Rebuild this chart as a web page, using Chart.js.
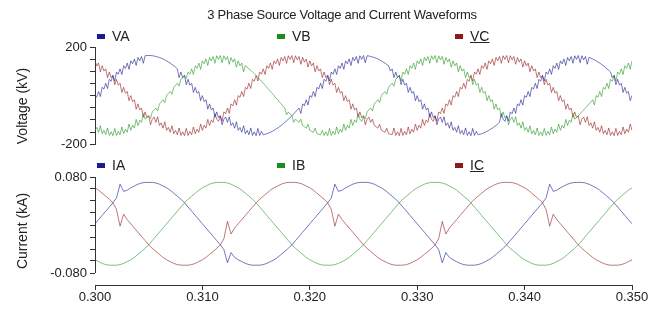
<!DOCTYPE html>
<html>
<head>
<meta charset="utf-8">
<script src="https://cdn.jsdelivr.net/npm/chart.js@4.4.1/dist/chart.umd.min.js"></script>
<style>
    body { margin: 0; background: #fff; font-family: "Liberation Sans", Arial, sans-serif; }
    #wrap { position: relative; width: 659px; height: 310px; overflow: hidden; background: #fff; }
    canvas { position: absolute; left: 0; }
    #voltChart { top: 0; }
    #currChart { top: 150px; }
    .title { position: absolute; top: 7px; left: 342px; transform: translateX(-50%); font-size: 13px;
             letter-spacing: -0.25px; line-height: 16px; white-space: nowrap; color: #222; }
    .key { position: absolute; font-size: 14px; line-height: 16px; color: #222; white-space: nowrap; }
    .key i { display: inline-block; width: 8px; height: 5px; margin-right: 7px; vertical-align: middle;
             position: relative; top: -1px; }
    .key u { text-decoration: underline; }
</style>
</head>
<body>
<div id="wrap">
    <canvas id="voltChart" width="659" height="155"></canvas>
    <canvas id="currChart" width="659" height="160"></canvas>
    <div class="title">3 Phase Source Voltage and Current Waveforms</div>
    <div class="key" style="left:97px;top:28px"><i style="background:#1c1c8c"></i>VA</div>
    <div class="key" style="left:277px;top:28px"><i style="background:#1c8c1c"></i>VB</div>
    <div class="key" style="left:455px;top:28px"><i style="background:#8c1c1c"></i><u>VC</u></div>
    <div class="key" style="left:97px;top:157px"><i style="background:#1c1c8c"></i>IA</div>
    <div class="key" style="left:277px;top:157px"><i style="background:#1c8c1c"></i>IB</div>
    <div class="key" style="left:455px;top:157px"><i style="background:#8c1c1c"></i><u>IC</u></div>
</div>
<script>
// Sampling of the recorded waveforms (seconds)
const startTime = 0.300;
const voltageStep = 1 / 6000;
const currentStep = 1 / 3000;

// Axis ticks
const timeTicks = [0.300, 0.310, 0.320, 0.330, 0.340, 0.350];
const voltageTickMarks = [-200, -150, -100, -50, 0, 50, 100, 150, 200];
const voltageLabels = [-200, 200];
const currentTickMarks = [-0.08, -0.06, -0.04, -0.02, 0, 0.02, 0.04, 0.06, 0.08];
const currentLabels = [-0.08, 0.08];

// Phase voltages (kV)
const voltageA = [
    0, -7, 17, -4, 34, 27, 51, 29, 67, 59, 83, 60, 97, 88, 110, 87, 123, 112, 134, 108,
    143, 131, 151, 124, 157, 143, 161, 133, 164, 165, 165, 165, 164, 163, 161, 159, 157, 154, 151, 147,
    143, 138, 134, 128, 123, 117, 110, 74, 97, 74, 83, 45, 67, 43, 51, 13, 34, 10, 17, -21,
    0, -25, -17, -56, -34, -59, -51, -89, -67, -91, -83, -120, -97, -88, -110, -87, -123, -112, -134, -108,
    -143, -131, -151, -124, -157, -143, -161, -133, -164, -149, -165, -135, -164, -147, -161, -159, -157, -154, -151, -147,
    -143, -138, -134, -128, -123, -117, -110, -104, -97, -90, -83, -75, -67, -59, -51, -73, -34, -42, -17, -39,
    0, -7, 17, -4, 34, 27, 51, 29, 67, 59, 83, 60, 97, 88, 110, 87, 123, 112, 134, 108,
    143, 131, 151, 124, 157, 143, 161, 133, 164, 149, 165, 135, 164, 163, 161, 159, 157, 154, 151, 147,
    143, 138, 134, 128, 123, 101, 110, 74, 97, 74, 83, 45, 67, 43, 51, 13, 34, 10, 17, -21,
    0, -25, -17, -56, -34, -59, -51, -89, -67, -91, -83, -120, -97, -88, -110, -87, -123, -112, -134, -108,
    -143, -131, -151, -124, -157, -143, -161, -133, -164, -149, -165, -135, -164, -147, -161, -159, -157, -154, -151, -147,
    -143, -138, -134, -128, -123, -117, -110, -74, -97, -106, -83, -105, -67, -75, -51, -73, -34, -42, -17, -39,
    0, -7, 17, -4, 34, 27, 51, 29, 67, 59, 83, 60, 97, 88, 110, 87, 123, 112, 134, 108,
    143, 131, 151, 124, 157, 143, 161, 133, 164, 149, 165, 135, 164, 147, 161, 129, 157, 154, 151, 147,
    143, 138, 134, 128, 123, 117, 110, 104, 97, 74, 83, 45, 67, 43, 51, 13, 34, 10, 17, -21,
    0
];
const voltageB = [
    -143, -131, -151, -124, -157, -143, -161, -133, -164, -149, -165, -135, -164, -147, -161, -129, -157, -138, -151, -117,
    -143, -122, -134, -98, -123, -101, -110, -74, -97, -90, -83, -95, -67, -59, -51, -63, -34, -26, -17, -29,
    0, 9, 17, 6, 34, 43, 51, 39, 67, 75, 83, 70, 97, 88, 110, 87, 123, 112, 134, 108,
    143, 131, 151, 124, 157, 143, 161, 133, 164, 149, 165, 135, 164, 147, 161, 129, 157, 138, 151, 117,
    143, 122, 134, 98, 123, 117, 110, 104, 97, 90, 83, 75, 67, 59, 51, 43, 34, 26, 17, 9,
    0, -9, -17, -26, -34, -43, -51, -79, -67, -75, -83, -110, -97, -104, -110, -97, -123, -128, -134, -118,
    -143, -147, -151, -134, -157, -159, -161, -143, -164, -149, -165, -135, -164, -147, -161, -129, -157, -138, -151, -117,
    -143, -122, -134, -98, -123, -101, -110, -74, -97, -106, -83, -95, -67, -59, -51, -63, -34, -26, -17, -29,
    0, 9, 17, 6, 34, 43, 51, 39, 67, 75, 83, 60, 97, 88, 110, 87, 123, 112, 134, 108,
    143, 131, 151, 124, 157, 143, 161, 133, 164, 149, 165, 135, 164, 147, 161, 129, 157, 138, 151, 117,
    143, 122, 134, 98, 123, 101, 110, 74, 97, 74, 83, 45, 67, 43, 51, 13, 34, 10, 17, -21,
    0, -25, -17, -56, -34, -59, -51, -89, -67, -91, -83, -120, -97, -88, -110, -87, -123, -112, -134, -108,
    -143, -131, -151, -124, -157, -143, -161, -133, -164, -149, -165, -135, -164, -147, -161, -129, -157, -138, -151, -117,
    -143, -122, -134, -98, -123, -101, -110, -74, -97, -90, -83, -75, -67, -59, -51, -43, -34, -26, -17, -39,
    0, -7, 17, -4, 34, 27, 51, 29, 67, 59, 83, 60, 97, 88, 110, 87, 123, 112, 134, 108,
    143
];
const voltageC = [
    143, 122, 134, 98, 123, 101, 110, 74, 97, 74, 83, 45, 67, 43, 51, 13, 34, 10, 17, -21,
    0, -25, -17, -56, -34, -59, -51, -89, -67, -91, -83, -120, -97, -88, -110, -87, -123, -112, -134, -108,
    -143, -131, -151, -124, -157, -143, -161, -133, -164, -149, -165, -135, -164, -147, -161, -129, -157, -138, -151, -117,
    -143, -122, -134, -98, -123, -101, -110, -74, -97, -106, -83, -105, -67, -75, -51, -73, -34, -42, -17, -39,
    0, -7, 17, -4, 34, 27, 51, 29, 67, 59, 83, 60, 97, 88, 110, 87, 123, 112, 134, 108,
    143, 131, 151, 124, 157, 143, 161, 133, 164, 149, 165, 135, 164, 147, 161, 129, 157, 138, 151, 117,
    143, 122, 134, 98, 123, 101, 110, 74, 97, 74, 83, 45, 67, 43, 51, 13, 34, 10, 17, -21,
    0, -25, -17, -56, -34, -59, -51, -89, -67, -91, -83, -120, -97, -88, -110, -97, -123, -128, -134, -118,
    -143, -147, -151, -134, -157, -159, -161, -133, -164, -149, -165, -135, -164, -147, -161, -129, -157, -138, -151, -117,
    -143, -122, -134, -98, -123, -101, -110, -74, -97, -106, -83, -105, -67, -75, -51, -73, -34, -42, -17, -39,
    0, -7, 17, -4, 34, 27, 51, 29, 67, 59, 83, 60, 97, 88, 110, 87, 123, 112, 134, 108,
    143, 131, 151, 124, 157, 143, 161, 133, 164, 149, 165, 135, 164, 147, 161, 129, 157, 138, 151, 117,
    143, 122, 134, 98, 123, 101, 110, 74, 97, 74, 83, 45, 67, 43, 51, 13, 34, 10, 17, -21,
    0, -25, -17, -56, -34, -59, -51, -89, -67, -91, -83, -120, -97, -88, -110, -87, -123, -112, -134, -108,
    -143, -131, -151, -124, -157, -143, -161, -133, -164, -149, -165, -135, -164, -147, -161, -129, -157, -138, -151, -117,
    -143
];

// Phase currents (kA)
const currentA = [
    0.002, 0.009, 0.016, 0.023, 0.030, 0.037, 0.045, 0.068, 0.056, 0.058, 0.062, 0.065, 0.068, 0.070, 0.071, 0.071, 0.071, 0.070, 0.068, 0.065,
    0.062, 0.058, 0.053, 0.048, 0.043, 0.037, 0.030, 0.023, 0.016, 0.009, 0.002, -0.005, -0.012, -0.019, -0.026, -0.033, -0.041, -0.063, -0.046, -0.054,
    -0.058, -0.061, -0.064, -0.066, -0.067, -0.067, -0.067, -0.066, -0.064, -0.061, -0.058, -0.054, -0.049, -0.044, -0.039, -0.033, -0.026, -0.019, -0.012, -0.005,
    0.002, 0.009, 0.016, 0.023, 0.030, 0.037, 0.045, 0.068, 0.056, 0.058, 0.062, 0.065, 0.068, 0.070, 0.071, 0.071, 0.071, 0.070, 0.068, 0.065,
    0.062, 0.058, 0.053, 0.048, 0.043, 0.037, 0.030, 0.023, 0.016, 0.009, 0.002, -0.005, -0.012, -0.019, -0.026, -0.033, -0.041, -0.063, -0.046, -0.054,
    -0.058, -0.061, -0.064, -0.066, -0.067, -0.067, -0.067, -0.066, -0.064, -0.061, -0.058, -0.054, -0.049, -0.044, -0.039, -0.033, -0.026, -0.019, -0.012, -0.005,
    0.002, 0.009, 0.016, 0.023, 0.030, 0.037, 0.045, 0.068, 0.056, 0.058, 0.062, 0.065, 0.068, 0.070, 0.071, 0.071, 0.071, 0.070, 0.068, 0.065,
    0.062, 0.058, 0.053, 0.048, 0.043, 0.037, 0.030, 0.023, 0.016, 0.009, 0.002
];
const currentB = [
    -0.058, -0.061, -0.064, -0.066, -0.067, -0.067, -0.067, -0.066, -0.064, -0.061, -0.058, -0.054, -0.049, -0.044, -0.039, -0.033, -0.026, -0.019, -0.012, -0.005,
    0.002, 0.009, 0.016, 0.023, 0.030, 0.037, 0.043, 0.048, 0.053, 0.058, 0.062, 0.065, 0.068, 0.070, 0.071, 0.071, 0.071, 0.070, 0.068, 0.065,
    0.062, 0.058, 0.053, 0.048, 0.043, 0.037, 0.030, 0.023, 0.016, 0.009, 0.002, -0.005, -0.012, -0.019, -0.026, -0.033, -0.039, -0.044, -0.049, -0.054,
    -0.058, -0.061, -0.064, -0.066, -0.067, -0.067, -0.067, -0.066, -0.064, -0.061, -0.058, -0.054, -0.049, -0.044, -0.039, -0.033, -0.026, -0.019, -0.012, -0.005,
    0.002, 0.009, 0.016, 0.023, 0.030, 0.037, 0.043, 0.048, 0.053, 0.058, 0.062, 0.065, 0.068, 0.070, 0.071, 0.071, 0.071, 0.070, 0.068, 0.065,
    0.062, 0.058, 0.053, 0.048, 0.043, 0.037, 0.030, 0.023, 0.016, 0.009, 0.002, -0.005, -0.012, -0.019, -0.026, -0.033, -0.039, -0.044, -0.049, -0.054,
    -0.058, -0.061, -0.064, -0.066, -0.067, -0.067, -0.067, -0.066, -0.064, -0.061, -0.058, -0.054, -0.049, -0.044, -0.039, -0.033, -0.026, -0.019, -0.012, -0.005,
    0.002, 0.009, 0.016, 0.023, 0.030, 0.037, 0.043, 0.048, 0.053, 0.058, 0.062
];
const currentC = [
    0.062, 0.058, 0.053, 0.048, 0.043, 0.037, 0.026, -0.002, 0.018, 0.009, 0.002, -0.005, -0.012, -0.019, -0.026, -0.033, -0.039, -0.044, -0.049, -0.054,
    -0.058, -0.061, -0.064, -0.066, -0.067, -0.067, -0.067, -0.066, -0.064, -0.061, -0.058, -0.054, -0.049, -0.044, -0.039, -0.033, -0.023, 0.006, -0.015, -0.005,
    0.002, 0.009, 0.016, 0.023, 0.030, 0.037, 0.043, 0.048, 0.053, 0.058, 0.062, 0.065, 0.068, 0.070, 0.071, 0.071, 0.071, 0.070, 0.068, 0.065,
    0.062, 0.058, 0.053, 0.048, 0.043, 0.037, 0.026, -0.002, 0.018, 0.009, 0.002, -0.005, -0.012, -0.019, -0.026, -0.033, -0.039, -0.044, -0.049, -0.054,
    -0.058, -0.061, -0.064, -0.066, -0.067, -0.067, -0.067, -0.066, -0.064, -0.061, -0.058, -0.054, -0.049, -0.044, -0.039, -0.033, -0.023, 0.006, -0.015, -0.005,
    0.002, 0.009, 0.016, 0.023, 0.030, 0.037, 0.043, 0.048, 0.053, 0.058, 0.062, 0.065, 0.068, 0.070, 0.071, 0.071, 0.071, 0.070, 0.068, 0.065,
    0.062, 0.058, 0.053, 0.048, 0.043, 0.037, 0.026, -0.002, 0.018, 0.009, 0.002, -0.005, -0.012, -0.019, -0.026, -0.033, -0.039, -0.044, -0.049, -0.054,
    -0.058, -0.061, -0.064, -0.066, -0.067, -0.067, -0.067, -0.066, -0.064, -0.061, -0.058
];

const axisColor = '#333';
const textColor = '#222';
const phaseColors = ['rgba(36, 36, 150, 0.62)', 'rgba(30, 150, 30, 0.58)', 'rgba(150, 30, 30, 0.6)'];

// turn a sampled record into {x, y} points
function toPoints(values, step) {
    return values.map((v, i) => ({ x: startTime + i * step, y: v }));
}

function lineSet(label, values, step, color) {
    return {
        label: label,
        data: toPoints(values, step),
        borderColor: color,
        borderWidth: 1,
        pointRadius: 0,
        tension: 0,
        fill: false
    };
}

function sameValue(a, b) {
    return Math.abs(a - b) < 1e-9;
}

const tickFont = { family: '"Liberation Sans", Arial, sans-serif', size: 13 };
const titleFont = { family: '"Liberation Sans", Arial, sans-serif', size: 14 };

// the current panel's y axis line stops at -0.080, above the time axis
const currentAxisLine = {
    id: 'currentAxisLine',
    afterDraw(chart) {
        const scale = chart.scales.y;
        const ctx = chart.ctx;
        const x = Math.round(scale.right) + 0.5;
        ctx.save();
        ctx.strokeStyle = axisColor;
        ctx.lineWidth = 1;
        ctx.beginPath();
        ctx.moveTo(x, scale.getPixelForValue(currentTickMarks[currentTickMarks.length - 1]));
        ctx.lineTo(x, scale.getPixelForValue(currentTickMarks[0]));
        ctx.stroke();
        ctx.restore();
    }
};

new Chart(document.getElementById('voltChart'), {
    type: 'line',
    data: {
        datasets: [
            lineSet('VA', voltageA, voltageStep, phaseColors[0]),
            lineSet('VB', voltageB, voltageStep, phaseColors[1]),
            lineSet('VC', voltageC, voltageStep, phaseColors[2])
        ]
    },
    options: {
        responsive: false,
        animation: false,
        events: [],
        layout: { padding: { top: 47, right: 27, bottom: 10, left: 0 } },
        plugins: { legend: { display: false }, tooltip: { enabled: false } },
        scales: {
            x: { type: 'linear', display: false, min: 0.300, max: 0.350 },
            y: {
                min: -200,
                max: 200,
                afterFit(scale) { scale.width = 95; },
                afterBuildTicks(scale) { scale.ticks = voltageTickMarks.map(v => ({ value: v })); },
                border: { display: true, color: axisColor },
                grid: { drawOnChartArea: false, tickLength: 5, tickColor: axisColor },
                ticks: {
                    autoSkip: false,
                    padding: 3,
                    color: textColor,
                    font: tickFont,
                    callback: v => voltageLabels.some(l => sameValue(l, v)) ? String(v) : ''
                },
                title: {
                    display: true,
                    text: 'Voltage (kV)',
                    align: 'start',
                    color: textColor,
                    font: titleFont,
                    padding: { top: 15, bottom: 0 }
                }
            }
        }
    }
});

new Chart(document.getElementById('currChart'), {
    type: 'line',
    data: {
        datasets: [
            lineSet('IA', currentA, currentStep, phaseColors[0]),
            lineSet('IB', currentB, currentStep, phaseColors[1]),
            lineSet('IC', currentC, currentStep, phaseColors[2])
        ]
    },
    options: {
        responsive: false,
        animation: false,
        events: [],
        layout: { padding: { top: 27, right: 27, bottom: 0, left: 0 } },
        plugins: { legend: { display: false }, tooltip: { enabled: false } },
        scales: {
            x: {
                type: 'linear',
                min: 0.300,
                max: 0.350,
                afterFit(scale) { scale.height = 25; },
                afterBuildTicks(scale) { scale.ticks = timeTicks.map(v => ({ value: v })); },
                border: { display: true, color: axisColor },
                grid: { drawOnChartArea: false, tickLength: 5, tickColor: axisColor },
                ticks: {
                    autoSkip: false,
                    maxRotation: 0,
                    padding: 0,
                    color: textColor,
                    font: tickFont,
                    callback: v => v.toFixed(3)
                }
            },
            y: {
                min: -0.1,
                max: 0.08,
                afterFit(scale) { scale.width = 95; },
                afterBuildTicks(scale) { scale.ticks = currentTickMarks.map(v => ({ value: v })); },
                border: { display: false },
                grid: { drawOnChartArea: false, tickLength: 5, tickColor: axisColor },
                ticks: {
                    autoSkip: false,
                    padding: 3,
                    color: textColor,
                    font: tickFont,
                    callback: v => currentLabels.some(l => sameValue(l, v)) ? v.toFixed(3) : ''
                },
                title: {
                    display: true,
                    text: 'Current (kA)',
                    align: 'center',
                    color: textColor,
                    font: titleFont,
                    padding: { top: 15, bottom: 0 }
                }
            }
        }
    },
    plugins: [currentAxisLine]
});
</script>
</body>
</html>
